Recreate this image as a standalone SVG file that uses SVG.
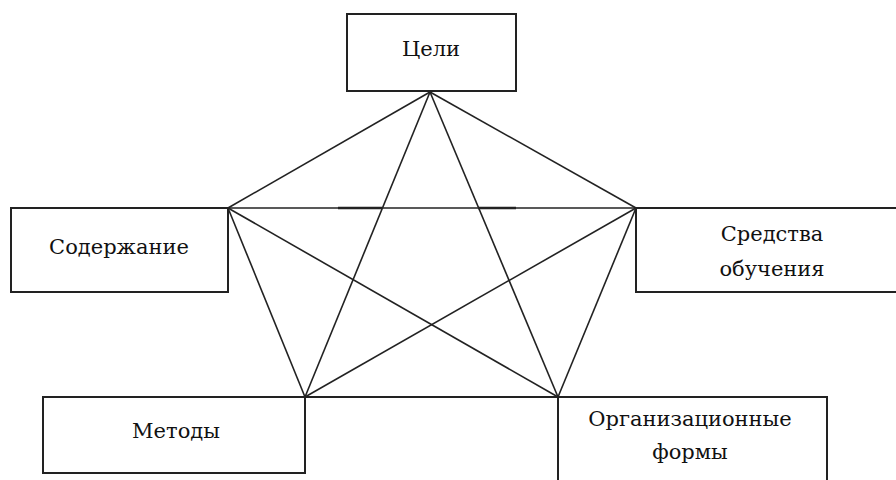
<svg xmlns="http://www.w3.org/2000/svg" width="896" height="480" viewBox="0 0 896 480">
<style>
.box{fill:#fff;stroke:#222;stroke-width:2}
.edge{stroke:#222;stroke-width:1.6;fill:none}
</style>
<rect width="896" height="480" fill="#fff"/>
<g font-family="'DejaVu Serif', 'Liberation Serif', serif" font-size="21" fill="#111" text-anchor="middle">
<g id="node-celi">
<rect class="box" x="347" y="14" width="169" height="77"/>
<text x="431" y="56">Цели</text>
</g>
<g id="node-soderzhanie">
<rect class="box" x="11" y="208" width="217" height="84"/>
<text x="119" y="254">Содержание</text>
</g>
<g id="node-sredstva">
<rect class="box" x="636" y="208" width="270" height="84"/>
<text x="772" y="241">Средства</text>
<text x="772" y="276">обучения</text>
</g>
<g id="node-metody">
<rect class="box" x="43" y="397" width="262" height="76"/>
<text x="176" y="438">Методы</text>
</g>
<g id="node-formy">
<rect class="box" x="558" y="397" width="269" height="90"/>
<text x="690" y="426">Организационные</text>
<text x="690" y="459">формы</text>
</g>
</g>
<g id="connectors">
<line class="edge" x1="430" y1="92" x2="228" y2="208"/>
<line class="edge" x1="430" y1="92" x2="636" y2="208"/>
<line class="edge" x1="430" y1="92" x2="305" y2="397"/>
<line class="edge" x1="430" y1="92" x2="558" y2="397"/>
<line class="edge" x1="228" y1="208" x2="636" y2="208"/>
<line class="edge" x1="228" y1="208" x2="305" y2="397"/>
<line class="edge" x1="228" y1="208" x2="558" y2="397"/>
<line class="edge" x1="636" y1="208" x2="305" y2="397"/>
<line class="edge" x1="636" y1="208" x2="558" y2="397"/>
<line class="edge" x1="305" y1="397" x2="558" y2="397" style="stroke-width:2.2"/>
<line class="edge" x1="338" y1="208" x2="382" y2="208" style="stroke-width:2.4"/>
<line class="edge" x1="478" y1="208" x2="516" y2="208" style="stroke-width:2.4"/>
</g>
</svg>
